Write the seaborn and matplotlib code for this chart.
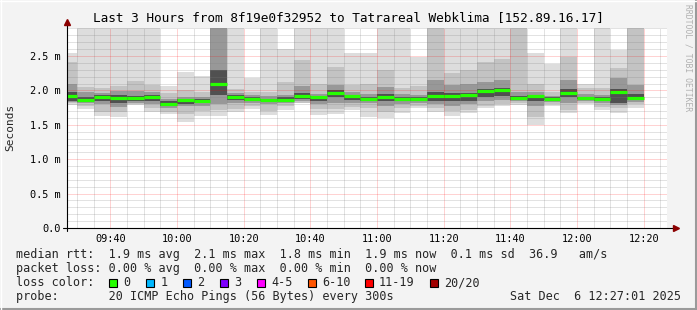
import matplotlib
matplotlib.use("Agg")
import matplotlib.pyplot as plt
from matplotlib.patches import Rectangle
from matplotlib.lines import Line2D
import numpy as np
import pandas as pd
import seaborn as sns

# ---------------- data (milliseconds) ----------------
bar_end = ["09:30", "09:35", "09:40", "09:45", "09:50", "09:55", "10:00", "10:05",
           "10:10", "10:15", "10:20", "10:25", "10:30", "10:35", "10:40", "10:45",
           "10:50", "10:55", "11:00", "11:05", "11:10", "11:15", "11:20", "11:25",
           "11:30", "11:35", "11:40", "11:45", "11:50", "11:55", "12:00", "12:05",
           "12:10", "12:15", "12:20"]

median_ms = [1.92, 1.855, 1.91, 1.885, 1.885, 1.91, 1.80, 1.855, 1.85, 2.10,
             1.91, 1.875, 1.855, 1.865, 1.915, 1.90, 1.96, 1.92, 1.88, 1.91,
             1.88, 1.88, 1.915, 1.915, 1.93, 1.985, 2.00, 1.885, 1.915, 1.875,
             1.96, 1.89, 1.875, 1.97, 1.885]

ping_min = [1.79, 1.73, 1.63, 1.61, 1.79, 1.69, 1.66, 1.545, 1.63, 1.63,
            1.69, 1.725, 1.64, 1.715, 1.81, 1.64, 1.66, 1.715, 1.62, 1.60,
            1.67, 1.74, 1.69, 1.63, 1.67, 1.74, 1.78, 1.79, 1.50, 1.77,
            1.67, 1.80, 1.72, 1.67, 1.75]

ping_max = [2.54, 3.0, 3.0, 3.0, 3.0, 3.0, 2.06, 2.27, 2.21, 3.0,
            3.0, 2.185, 3.0, 2.60, 3.0, 3.0, 3.0, 2.54, 2.54, 3.0,
            3.0, 2.48, 3.0, 3.0, 3.0, 3.0, 3.0, 3.0, 2.54, 2.39,
            3.0, 2.10, 3.0, 2.58, 3.0]

band2_lo = [1.81, 1.78, 1.68, 1.68, 1.80, 1.74, 1.69, 1.66, 1.70, 1.72,
            1.73, 1.77, 1.70, 1.77, 1.81, 1.73, 1.73, 1.76, 1.74, 1.68,
            1.74, 1.78, 1.74, 1.70, 1.72, 1.78, 1.80, 1.81, 1.62, 1.80,
            1.72, 1.81, 1.76, 1.75, 1.80]
band2_hi = [2.42, 2.05, 2.03, 2.06, 2.14, 2.08, 1.96, 2.01, 1.98, 3.0,
            2.02, 1.98, 1.97, 2.12, 2.44, 2.10, 2.34, 2.08, 2.10, 2.30,
            2.03, 2.06, 3.0, 2.25, 2.30, 2.41, 2.45, 3.0, 2.10, 1.98,
            2.48, 2.03, 2.03, 2.33, 3.0]

band3_lo = [1.83, 1.81, 1.80, 1.76, 1.82, 1.80, 1.75, 1.77, 1.78, 1.80,
            1.82, 1.81, 1.80, 1.82, 1.84, 1.80, 1.82, 1.82, 1.82, 1.78,
            1.80, 1.82, 1.80, 1.78, 1.80, 1.84, 1.86, 1.84, 1.78, 1.83,
            1.82, 1.85, 1.82, 1.79, 1.83]
band3_hi = [2.10, 1.97, 1.96, 1.99, 1.99, 1.98, 1.88, 1.90, 1.91, 3.0,
            1.96, 1.93, 1.92, 1.93, 2.06, 1.95, 2.08, 1.97, 1.95, 2.05,
            1.95, 1.94, 2.15, 2.08, 2.10, 2.12, 2.15, 1.97, 1.97, 1.92,
            2.15, 1.95, 1.93, 2.18, 2.08]

band4_lo = [1.85, 1.83, 1.85, 1.82, 1.85, 1.84, 1.77, 1.80, 1.82, 1.93,
            1.86, 1.85, 1.84, 1.84, 1.87, 1.85, 1.90, 1.86, 1.85, 1.85,
            1.85, 1.85, 1.85, 1.85, 1.85, 1.90, 1.92, 1.86, 1.84, 1.86,
            1.90, 1.87, 1.85, 1.82, 1.86]
band4_hi = [1.98, 1.90, 1.93, 1.93, 1.92, 1.93, 1.84, 1.87, 1.87, 2.30,
            1.93, 1.90, 1.88, 1.90, 1.96, 1.92, 2.00, 1.94, 1.91, 1.95,
            1.91, 1.90, 1.97, 1.96, 1.96, 2.02, 2.04, 1.92, 1.94, 1.90,
            2.02, 1.91, 1.90, 2.02, 1.95]

y_ticks = [0.0, 0.5, 1.0, 1.5, 2.0, 2.5]
x_tick_labels = ["09:40", "10:00", "10:20", "10:40", "11:00", "11:20", "11:40", "12:00", "12:20"]

loss_labels = ["0", "1", "2", "3", "4-5", "6-10", "11-19", "20/20"]
loss_colors = ["#26ff00", "#00b8ff", "#0059ff", "#7e00ff", "#ff00ff", "#ff5500", "#ff0000", "#a10000"]

title = "Last 3 Hours from 8f19e0f32952 to Tatrareal Webklima [152.89.16.17]"
legend_rtt = "median rtt:  1.9 ms avg  2.1 ms max  1.8 ms min  1.9 ms now  0.1 ms sd  36.9   am/s"
legend_loss = "packet loss: 0.00 % avg  0.00 % max  0.00 % min  0.00 % now"
legend_probe = "probe:       20 ICMP Echo Pings (56 Bytes) every 300s"
stamp = "Sat Dec  6 12:27:01 2025"
watermark = "RRDTOOL / TOBI OETIKER"

# ---------------- style ----------------
sns.set_style("white")
plt.rcParams["font.family"] = ["DejaVu Sans Mono", "DejaVu Sans"]

W, H = 697, 310
BG = "#f3f3f3"
fig = plt.figure(figsize=(W / 100, H / 100), dpi=100, facecolor=BG)
ax = fig.add_axes([67 / W, (H - 228) / H, 600 / W, 200 / H])
ax.set_facecolor("white")


def to_min(s):
    h, m = s.split(":")
    return int(h) * 60 + int(m)


ends = np.array([to_min(s) for s in bar_end], dtype=float)
starts = ends - 5.0
t0, t1 = to_min("09:27"), to_min("12:27")

# smoke bands
bands = [
    (ping_min, ping_max, "#dddddd"),
    (band2_lo, band2_hi, "#c3c3c3"),
    (band3_lo, band3_hi, "#989898"),
    (band4_lo, band4_hi, "#505050"),
]
for lo, hi, col in bands:
    lo = np.array(lo)
    hi = np.array(hi)
    ax.bar(starts, hi - lo, bottom=lo, width=5.0, align="edge", color=col,
           linewidth=0, antialiased=False, zorder=1)

# median line (loss colour 0)
med_df = pd.DataFrame({
    "bar": np.repeat(np.arange(len(bar_end)), 2),
    "t": np.column_stack([starts, ends]).ravel(),
    "ms": np.repeat(median_ms, 2),
})
sns.lineplot(data=med_df, x="t", y="ms", units="bar", estimator=None,
             color=loss_colors[0], linewidth=2.3, ax=ax, zorder=4,
             solid_capstyle="butt", legend=False)

ax.set_xlim(t0, t1)
ax.set_ylim(0, 2.907)

# grid
minor_x = np.arange(t0 - (t0 % 5) + 5, t1, 5)
major_x = [to_min(s) for s in x_tick_labels]
for x in minor_x:
    if x not in major_x:
        ax.axvline(x, color="#808080", alpha=0.45, lw=0.72, ls=(0, (1, 1)), zorder=2)
for x in major_x:
    ax.axvline(x, color="#ff0000", alpha=0.35, lw=0.72, ls=(0, (1, 1)), zorder=2)
for y in np.arange(0.1, 2.91, 0.1):
    if abs(y * 2 - round(y * 2)) > 1e-6:
        ax.axhline(y, color="#808080", alpha=0.45, lw=0.72, ls=(0, (1, 1)), zorder=2)
for y in y_ticks[1:]:
    ax.axhline(y, color="#ff0000", alpha=0.35, lw=0.72, ls=(0, (1, 1)), zorder=2)

ax.set_xticks(major_x)
ax.set_xticklabels(x_tick_labels)
ax.set_yticks(y_ticks)
ax.set_yticklabels(["0.0" if v == 0 else f"{v:.1f} m" for v in y_ticks])
ax.tick_params(axis="both", length=0, labelsize=7.4, colors="black")
ax.tick_params(axis="x", pad=4)
ax.tick_params(axis="y", pad=4.5)
ax.set_xlabel("")
ax.set_ylabel("")
for s in ax.spines.values():
    s.set_visible(False)

# axes lines with arrows
ax.add_line(Line2D([0, 0], [-0.015, 1.025], transform=ax.transAxes, color="black",
                   lw=0.8, clip_on=False, zorder=5))
ax.add_line(Line2D([-0.007, 1.01], [0, 0], transform=ax.transAxes, color="black",
                   lw=0.8, clip_on=False, zorder=5))
ax.plot([0], [1.03], marker="^", color="#8b0000", markersize=4.5, transform=ax.transAxes,
        clip_on=False, zorder=6)
ax.plot([1.015], [0], marker=">", color="#8b0000", markersize=4.5, transform=ax.transAxes,
        clip_on=False, zorder=6)


def fx(x):
    return x / W


def fy(y):
    return 1 - y / H


fig.text(fx(348), fy(18), title, ha="center", va="center", fontsize=9.2, color="black")
fig.text(fx(10), fy(127), "Seconds", rotation=90, ha="center", va="center", fontsize=8)
fig.text(fx(688), fy(4), watermark, rotation=270, ha="center", va="top", fontsize=5.8,
         color="#b0b0b0")

fs = 8.5
fig.text(fx(16), fy(254.5), legend_rtt, ha="left", va="center", fontsize=fs)
fig.text(fx(16), fy(268.5), legend_loss, ha="left", va="center", fontsize=fs)
fig.text(fx(16), fy(282.5), "loss color:", ha="left", va="center", fontsize=fs)
box_x = [109, 146, 183, 220, 256.5, 307.5, 365, 430]
lab_x = [123.5, 160.5, 197.5, 234, 271, 322, 379, 444.5]
for bx, lx, lab, col in zip(box_x, lab_x, loss_labels, loss_colors):
    fig.add_artist(Rectangle((fx(bx), fy(287)), 8 / W, 8 / H, transform=fig.transFigure,
                             facecolor=col, edgecolor="black", lw=0.8))
    fig.text(fx(lx), fy(282.5), lab, ha="left", va="center", fontsize=fs)
fig.text(fx(16), fy(296.5), legend_probe, ha="left", va="center", fontsize=fs)
fig.text(fx(681), fy(296.5), stamp, ha="right", va="center", fontsize=fs)

# frame
fig.add_artist(Line2D([0, 1], [fy(309), fy(309)], transform=fig.transFigure, color="#9a9a9a", lw=1.5))
fig.add_artist(Line2D([fx(696), fx(696)], [0, 1], transform=fig.transFigure, color="#9a9a9a", lw=1.5))
fig.add_artist(Line2D([0, 1], [fy(0.5), fy(0.5)], transform=fig.transFigure, color="#ffffff", lw=1))
fig.add_artist(Line2D([fx(0.5), fx(0.5)], [0, 1], transform=fig.transFigure, color="#ffffff", lw=1))

fig.savefig("out.png", dpi=100, facecolor=BG)
